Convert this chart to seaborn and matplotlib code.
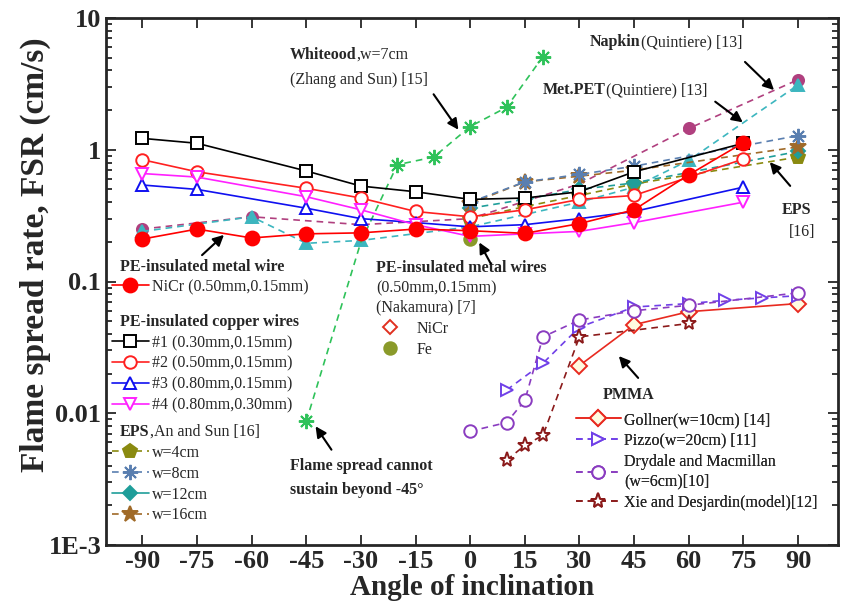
import matplotlib
matplotlib.use('Agg')
import matplotlib.pyplot as plt
import seaborn as sns
import numpy as np
from matplotlib.lines import Line2D

# ---- data ----
ang_cu = [-90, -75, -45, -30, -15, 0, 15, 30, 45, 75]
cu1 = [1.22, 1.12, 0.69, 0.53, 0.48, 0.42, 0.43, 0.48, 0.68, 1.12]
cu2 = [0.84, 0.68, 0.51, 0.43, 0.34, 0.31, 0.35, 0.42, 0.45, 0.85]
cu3 = [0.54, 0.50, 0.36, 0.30, 0.28, 0.26, 0.27, 0.30, 0.34, 0.52]
cu4 = [0.66, 0.62, 0.44, 0.35, 0.27, 0.22, 0.23, 0.24, 0.28, 0.40]

ang_nicr = [-90, -75, -60, -45, -30, -15, 0, 15, 30, 45, 60, 75]
nicr = [0.21, 0.25, 0.214, 0.23, 0.234, 0.25, 0.243, 0.232, 0.275, 0.35, 0.645, 1.13]

ang_naka = [0]
naka_nicr = [0.25]
naka_fe = [0.21]

ang_wood = [-45, -30, -20, -10, 0, 10, 20]
wood = [0.0087, 0.2, 0.77, 0.88, 1.5, 2.1, 5.1]

ang_napkin = [-90, -60, -30, 0, 30, 60, 90]
napkin = [0.25, 0.31, 0.27, 0.30, 0.55, 1.45, 3.4]

ang_pet = [-90, -60, -45, -30, 0, 30, 45, 60, 90]
metpet = [0.24, 0.31, 0.195, 0.205, 0.26, 0.40, 0.52, 0.83, 3.1]

ang_eps = [0, 15, 30, 45, 90]
eps4 = [0.30, 0.37, 0.45, 0.55, 0.88]
eps8 = [0.40, 0.57, 0.65, 0.75, 1.28]
eps12 = [0.36, 0.42, 0.50, 0.56, 0.97]
eps16 = [0.39, 0.57, 0.63, 0.70, 1.05]

ang_gollner = [30, 45, 60, 90]
gollner = [0.023, 0.047, 0.059, 0.068]
ang_pizzo = [10, 20, 30, 45, 60, 70, 80, 90]
pizzo = [0.015, 0.024, 0.045, 0.064, 0.068, 0.072, 0.075, 0.078]
ang_dry = [0, 10, 15, 20, 30, 45, 60, 90]
drydale = [0.0073, 0.0085, 0.0125, 0.038, 0.051, 0.060, 0.066, 0.082]
ang_xie = [10, 15, 20, 30, 60]
xie = [0.0044, 0.0057, 0.0068, 0.038, 0.048]

xticks = [-90, -75, -60, -45, -30, -15, 0, 15, 30, 45, 60, 75, 90]
yticks = [1e-3, 1e-2, 1e-1, 1, 10]
ylabels = ['1E-3', '0.01', '0.1', '1', '10']

sns.set_theme(style='ticks')
plt.rcParams['font.family'] = ['Liberation Serif', 'DejaVu Serif']

fig = plt.figure(figsize=(8.47, 6.02), dpi=100)
ax = fig.add_axes([106/847, 1-545/602, 732/847, 527/602])

ms = 8
asterisk = (8, 2, 0)

def line(x, y, color, marker, ls='-', fill=None, size=ms, lw=1.2, every=None, z=3):
    kw = dict(color=color, marker=marker, markersize=size, linestyle=ls, linewidth=lw,
              markeredgecolor=color, markeredgewidth=1.4, zorder=z)
    kw['markerfacecolor'] = color if fill is None else fill
    if every is not None:
        kw['markevery'] = every
    sns.lineplot(x=x, y=y, ax=ax, legend=False, **kw)

dash = (0, (4, 3))
# other materials
line(ang_napkin, napkin, '#b0407f', 'o', dash, every=[0, 1, 5, 6])
line(ang_pet, metpet, '#3cb6bf', '^', dash)
line(ang_wood, wood, '#2fc25a', asterisk, dash, size=11, every=[0, 2, 3, 4, 5, 6])
line(ang_eps, eps4, '#8a8a10', 'p', dash, size=10)
line(ang_eps, eps12, '#1f9e9a', 'D', dash, size=7)
line(ang_eps, eps16, '#a06a28', '*', dash, size=12)
line(ang_eps, eps8, '#5a7fb0', asterisk, dash, size=11)
line(ang_naka, naka_fe, '#8a9a2a', 'o', '', size=9)
line(ang_naka, naka_nicr, '#e03020', 'D', '', fill='white', size=7)

# copper / metal wires
line(ang_cu, cu1, 'black', 's', fill='white', z=4)
line(ang_cu, cu2, '#ff2020', 'o', fill='white', size=9, z=4)
line(ang_cu, cu3, '#1010f0', '^', fill='white', size=9, z=4)
line(ang_cu, cu4, '#ff20ff', 'v', fill='white', size=9, z=4)
line(ang_nicr, nicr, '#ff0000', 'o', size=10, z=5)

# PMMA
line(ang_gollner, gollner, '#e82a20', 'D', fill='#fffbe0', size=8)
line(ang_pizzo, pizzo, '#7040e8', '>', dash, fill='white', size=9)
line(ang_dry, drydale, '#8a3cc0', 'o', dash, fill='white', size=9)
line(ang_xie, xie, '#8b1a1a', '*', dash, fill='white', size=11)

ax.set_yscale('log')
ax.set_xlim(-100, 101)
ax.set_ylim(1e-3, 10)
ax.set_xticks(xticks)
ax.set_xticklabels([str(t) for t in xticks])
ax.set_yticks(yticks)
ax.set_yticklabels(ylabels)
ax.yaxis.set_minor_locator(matplotlib.ticker.LogLocator(base=10, subs=np.arange(2, 10)))
ax.yaxis.set_minor_formatter(matplotlib.ticker.NullFormatter())
ax.tick_params(which='both', direction='in', top=True, right=True, width=1.3)
ax.tick_params(which='major', length=7, labelsize=19)
ax.tick_params(which='minor', length=4)
for lab in ax.get_xticklabels() + ax.get_yticklabels():
    lab.set_fontweight('bold')
for s in ax.spines.values():
    s.set_linewidth(2)
ax.set_xlabel('Angle of inclination', fontsize=21, fontweight='bold', labelpad=1)
ax.set_ylabel('Flame spread rate, FSR (cm/s)', fontsize=24, fontweight='bold')
ax.yaxis.set_label_coords(-0.075, 0.55)

fs = 11.5
H = 602

def P(x, y):
    return (x, H - y)

def txt(x, y, s, bold=False):
    return ax.annotate(s, xy=P(x, y), xycoords='figure pixels', fontsize=fs,
                       fontweight='bold' if bold else 'normal', va='center', ha='left')

def mixed(x, y, b, n):
    t = txt(x, y, b, bold=True)
    ax.annotate(n, xy=(1, 0), xycoords=t, fontsize=fs, va='bottom', ha='left')

def arrow(x0, y0, x1, y1):
    ax.annotate('', xy=P(x1, y1), xytext=P(x0, y0), xycoords='figure pixels',
                textcoords='figure pixels',
                arrowprops=dict(arrowstyle='-|>', color='black', lw=1.5, mutation_scale=16))

mixed(290, 55, 'Whiteood', ',w=7cm')
txt(290, 80, '(Zhang and Sun) [15]')
mixed(590, 42, 'Napkin', '(Quintiere) [13]')
mixed(543, 90, 'Met.PET', '(Quintiere) [13]')
txt(782, 210, 'EPS', bold=True)
txt(789, 232, '[16]')
txt(120, 267, 'PE-insulated metal wire', bold=True)
txt(120, 322, 'PE-insulated copper wires', bold=True)
mixed(120, 432, 'EPS', ',An and Sun [16]')
txt(376, 268, 'PE-insulated metal wires', bold=True)
txt(376, 288, '(0.50mm,0.15mm)')
txt(376, 307, '(Nakamura) [7]')
txt(603, 395, 'PMMA', bold=True)
txt(290, 466, 'Flame spread cannot', bold=True)
txt(290, 490, 'sustain beyond -45°', bold=True)

arrow(432, 92, 460, 132)
arrow(743, 60, 776, 92)
arrow(713, 100, 745, 124)
arrow(792, 188, 768, 160)
arrow(200, 257, 226, 233)
arrow(492, 266, 478, 240)
arrow(640, 380, 617, 354)
arrow(333, 452, 314, 424)

def h(color, marker, ls='-', fill=None, size=ms):
    return Line2D([], [], color=color, marker=marker, linestyle=ls, markersize=size,
                  markeredgecolor=color, markeredgewidth=1.4, lw=1.2,
                  markerfacecolor=color if fill is None else fill)

def leg(handles, labels, x, y, hl=2.3, pad=0.2):
    lg = ax.legend(handles, labels, loc='upper left', frameon=False, fontsize=fs,
                   handlelength=hl, handletextpad=pad, labelspacing=0.3,
                   borderpad=0, borderaxespad=0)
    lg.set_bbox_to_anchor(P(x, y), transform=matplotlib.transforms.IdentityTransform())
    for t in lg.get_texts():
        t.set_linespacing(1.35)
    ax.add_artist(lg)

leg([h('#ff0000', 'o', size=10)], ['NiCr (0.50mm,0.15mm)'], 112, 279)
leg([h('black', 's', fill='white'), h('#ff2020', 'o', fill='white', size=9),
     h('#1010f0', '^', fill='white', size=9), h('#ff20ff', 'v', fill='white', size=9)],
    ['#1 (0.30mm,0.15mm)', '#2 (0.50mm,0.15mm)', '#3 (0.80mm,0.15mm)', '#4 (0.80mm,0.30mm)'],
    112, 335)
leg([h('#8a8a10', 'p', dash, size=10), h('#5a7fb0', asterisk, dash, size=11),
     h('#1f9e9a', 'D', size=7), h('#a06a28', '*', dash, size=12)],
    ['w=4cm', 'w=8cm', 'w=12cm', 'w=16cm'], 112, 445)
leg([h('#e03020', 'D', '', fill='white', size=7), h('#8a9a2a', 'o', '', size=9)],
    ['NiCr', 'Fe'], 377, 321, hl=1.6, pad=0.9)
leg([h('#e82a20', 'D', fill='#fffbe0'), h('#7040e8', '>', dash, fill='white', size=9),
     h('#8a3cc0', 'o', dash, fill='white', size=9), h('#8b1a1a', '*', dash, fill='white', size=11)],
    ['Gollner(w=10cm) [14]', 'Pizzo(w=20cm) [11]', 'Drydale and Macmillan\n(w=6cm)[10]',
     'Xie and Desjardin(model)[12]'], 576, 412, hl=2.8)

fig.savefig('out.png', dpi=100)
